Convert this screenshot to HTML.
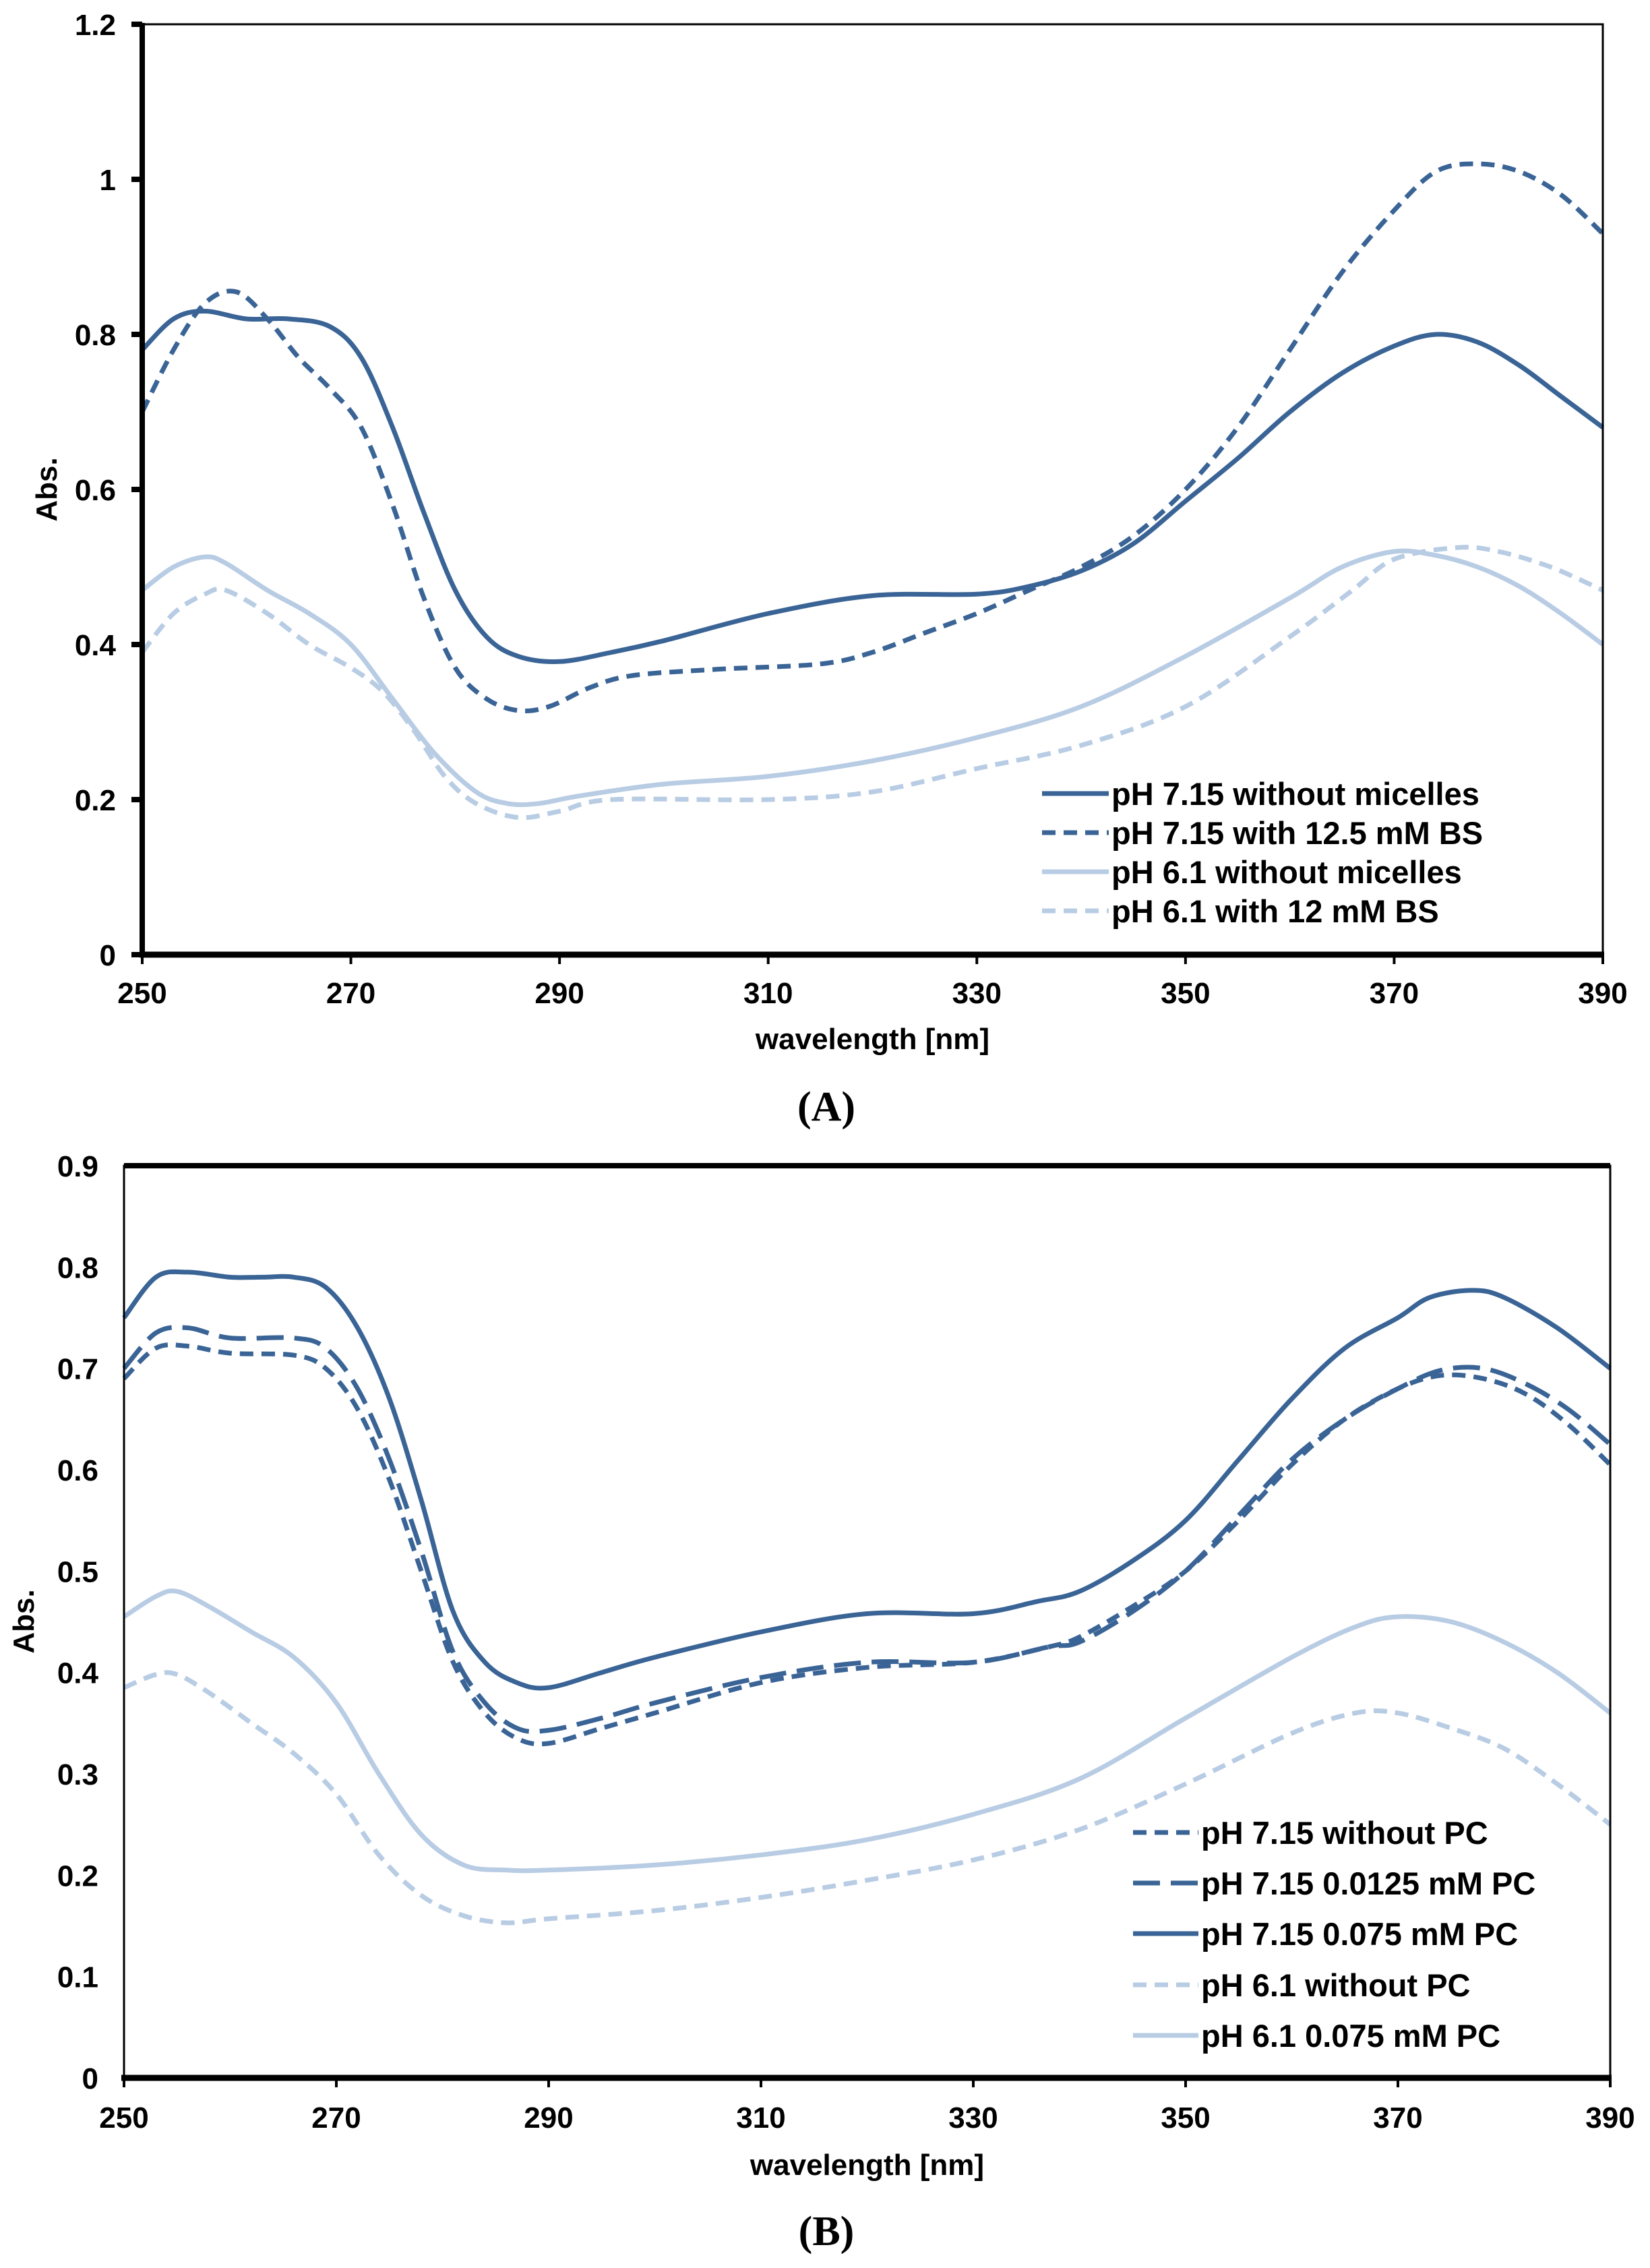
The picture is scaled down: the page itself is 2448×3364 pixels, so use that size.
<!DOCTYPE html>
<html><head><meta charset="utf-8"><style>
html,body{margin:0;padding:0;background:#fff;}
svg{display:block}
text{font-family:"Liberation Sans",Arial,sans-serif;font-weight:bold;fill:#000}
</style></head><body>
<svg id="s" width="2448" height="3364" xmlns="http://www.w3.org/2000/svg"></svg>
<script>
const S=document.getElementById('s');let h='';
const D='#3a6496',L='#b8cce4';
function path(pts,X,Y){let p=pts.map(q=>[X(q[0]),Y(q[1])]);let d='M'+p[0][0].toFixed(1)+','+p[0][1].toFixed(1);
for(let i=0;i<p.length-1;i++){const p0=p[Math.max(0,i-1)],p1=p[i],p2=p[i+1],p3=p[Math.min(p.length-1,i+2)];
const c1=[p1[0]+(p2[0]-p0[0])/6,p1[1]+(p2[1]-p0[1])/6],c2=[p2[0]-(p3[0]-p1[0])/6,p2[1]-(p3[1]-p1[1])/6];
d+=' C'+c1.map(v=>v.toFixed(1))+' '+c2.map(v=>v.toFixed(1))+' '+p2.map(v=>v.toFixed(1));}return d;}
function arr(s){return s.trim().split(/\s*,\s*/).map(t=>t.split(':').map(Number));}
function chart(o){const {x0,x1,y0,y1,ymax,step,series,legend,lx,ltx,lys,ylabX,ylabY,tickR,thickLeft,thickTop,title,tY,capY,cap}=o;
const X=v=>x0+(v-250)/140*(x1-x0),Y=v=>y0-(v/ymax)*(y0-y1);
for(const s of series){h+=`<path d="${path(arr(s.d),X,Y)}" fill="none" stroke="${s.c}" stroke-width="7" ${s.da?`stroke-dasharray="${s.da}"`:''}/>`;}
h+=`<rect x="${x0}" y="${y1}" width="${x1-x0}" height="${y0-y1}" fill="none" stroke="#000" stroke-width="3"/>`;
h+=`<line x1="${x0-4}" y1="${y0}" x2="${x1+2}" y2="${y0}" stroke="#000" stroke-width="9"/>`;
if(thickLeft)h+=`<line x1="${x0}" y1="${y1-2}" x2="${x0}" y2="${y0}" stroke="#000" stroke-width="8"/>`;
if(thickTop)h+=`<line x1="${x0}" y1="${y1}" x2="${x1}" y2="${y1}" stroke="#000" stroke-width="8"/>`;
for(let v=0;v<=ymax+1e-9;v+=step){const y=Y(v);if(thickLeft)h+=`<line x1="${x0-16}" y1="${y}" x2="${x0}" y2="${y}" stroke="#000" stroke-width="8"/>`;
let t=(Math.round(v*10)/10).toString();h+=`<text x="${tickR}" y="${y+16}" font-size="44" text-anchor="end">${t}</text>`;}
for(let v=250;v<=390;v+=20){const x=X(v);h+=`<line x1="${x}" y1="${y0}" x2="${x}" y2="${y0+14}" stroke="#000" stroke-width="4"/>`;
h+=`<text x="${x}" y="${tY}" font-size="44" text-anchor="middle">${v}</text>`;}
h+=`<text x="${(x0+x1)/2}" y="${title}" font-size="44" text-anchor="middle">wavelength [nm]</text>`;
h+=`<text transform="translate(${ylabX},${ylabY}) rotate(-90)" font-size="44" text-anchor="middle">Abs.</text>`;
h+=`<text x="1226" y="${capY}" font-size="62" text-anchor="middle" style="font-family:'Liberation Serif',serif">(<tspan font-weight="bold">${cap}</tspan>)</text>`;
legend.forEach((l,i)=>{const y=lys[i];h+=`<line x1="${lx}" y1="${y}" x2="${ltx-4}" y2="${y}" stroke="${l.c}" stroke-width="7" ${l.da?`stroke-dasharray="${l.da}"`:''}/>`;
h+=`<text x="${ltx}" y="${y+17}" font-size="47">${l.t}</text>`;});}
chart({x0:211,x1:2378,y0:1416,y1:36,ymax:1.2,step:0.2,thickLeft:1,tickR:172,tY:1488,title:1556,ylabX:84,ylabY:726,capY:1662,cap:'A',
series:[
{c:L,da:'20,12',d:'250:0.39,253:0.44,256:0.465,258:0.47,262:0.44,266:0.40,270:0.37,273:0.34,276:0.29,279:0.23,282:0.195,286:0.177,290:0.185,295:0.20,310:0.20,320:0.21,330:0.24,340:0.27,350:0.32,360:0.41,366:0.47,370:0.51,376:0.525,380:0.52,385:0.50,390:0.47'},
{c:L,d:'250:0.47,253:0.50,256:0.513,258:0.505,262:0.47,266:0.44,270:0.40,274:0.33,278:0.26,282:0.21,285:0.195,288:0.195,292:0.205,300:0.22,310:0.23,320:0.25,330:0.28,340:0.32,350:0.385,360:0.46,365:0.50,370:0.52,374:0.515,378:0.50,382:0.475,386:0.44,390:0.40'},
{c:D,da:'20,12',d:'250:0.70,253:0.78,256:0.84,259:0.855,262:0.82,265:0.77,268:0.73,271:0.68,274:0.58,277:0.46,280:0.37,283:0.33,286:0.315,289:0.32,293:0.345,297:0.36,305:0.368,315:0.375,320:0.39,325:0.415,330:0.44,335:0.47,340:0.50,345:0.54,350:0.60,355:0.68,360:0.78,365:0.88,370:0.96,374:1.01,378:1.02,382:1.01,386:0.98,390:0.93'},
{c:D,d:'250:0.78,253:0.82,256:0.83,260:0.82,264:0.82,268:0.81,271:0.77,274:0.68,277:0.57,280:0.47,283:0.41,286:0.385,290:0.378,295:0.39,300:0.405,310:0.44,320:0.463,330:0.465,335:0.475,340:0.495,345:0.53,350:0.585,355:0.64,360:0.70,365:0.75,370:0.785,374:0.80,378:0.79,382:0.76,386:0.72,390:0.68'}],
lx:1546,ltx:1649,lys:[1177,1235,1293,1351],
legend:[{c:D,t:'pH 7.15 without micelles'},{c:D,da:'20,12',t:'pH 7.15 with 12.5 mM BS'},{c:L,t:'pH 6.1 without micelles'},{c:L,da:'20,12',t:'pH 6.1 with 12 mM BS'}]});
chart({x0:184,x1:2389,y0:3082,y1:1729,ymax:0.9,step:0.1,thickTop:1,tickR:146,tY:3156,title:3226,ylabX:50,ylabY:2405,capY:3330,cap:'B',
series:[
{c:L,da:'20,12',d:'250:0.385,253:0.398,255:0.398,258:0.38,262:0.35,266:0.32,270:0.28,274:0.22,278:0.18,282:0.16,286:0.153,290:0.157,300:0.165,310:0.178,320:0.195,330:0.215,340:0.245,350:0.29,360:0.34,366:0.36,370:0.36,375:0.345,380:0.325,385:0.29,390:0.25'},
{c:L,d:'250:0.455,253:0.475,255:0.48,258:0.465,262:0.44,266:0.415,270:0.37,274:0.30,278:0.24,282:0.21,286:0.205,290:0.205,300:0.21,310:0.22,320:0.235,330:0.26,340:0.295,350:0.355,360:0.415,366:0.445,370:0.455,375:0.45,380:0.43,385:0.40,390:0.36'},
{c:D,da:'20,12',d:'250:0.69,253:0.72,256:0.722,260:0.715,266:0.713,269:0.70,272:0.66,275:0.59,278:0.50,281:0.41,284:0.36,287:0.335,290:0.33,295:0.345,300:0.36,310:0.39,320:0.405,330:0.41,337:0.425,340:0.435,345:0.465,350:0.50,355:0.55,360:0.605,365:0.65,370:0.68,374:0.693,378:0.69,382:0.675,386:0.645,390:0.605'},
{c:D,da:'40,16',d:'250:0.70,253:0.735,256:0.74,260:0.73,266:0.73,269:0.72,272:0.68,275:0.61,278:0.52,281:0.42,284:0.37,287:0.345,290:0.343,295:0.355,300:0.37,310:0.395,320:0.41,330:0.41,337:0.425,340:0.43,345:0.46,350:0.50,355:0.555,360:0.61,365:0.65,370:0.68,374:0.698,378:0.70,382:0.685,386:0.66,390:0.625'},
{c:D,d:'250:0.75,253:0.79,256:0.795,260:0.79,263:0.79,266:0.79,269:0.78,272:0.74,275:0.67,278:0.57,281:0.46,284:0.41,287:0.39,290:0.385,295:0.40,300:0.415,310:0.44,320:0.458,330:0.458,336:0.47,340:0.48,345:0.51,350:0.55,355:0.61,360:0.67,365:0.72,370:0.75,373:0.77,377:0.777,380:0.77,385:0.74,390:0.70'}],
lx:1681,ltx:1782,lys:[2718,2793,2868,2944,3019],
legend:[{c:D,da:'20,12',t:'pH 7.15 without PC'},{c:D,da:'40,16',t:'pH 7.15 0.0125 mM PC'},{c:D,t:'pH 7.15 0.075 mM PC'},{c:L,da:'20,12',t:'pH 6.1 without PC'},{c:L,t:'pH 6.1 0.075 mM PC'}]});
S.innerHTML=h;
</script>
</body></html>
